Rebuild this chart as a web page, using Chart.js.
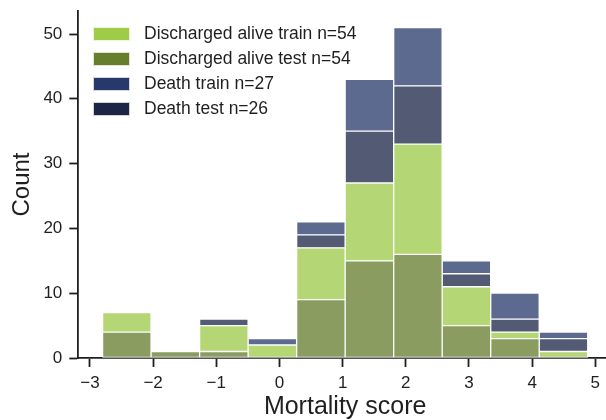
<!DOCTYPE html>
<html>
<head>
<meta charset="utf-8">
<script src="https://cdn.jsdelivr.net/npm/chart.js@4/dist/chart.umd.min.js"></script>
<style>
  html, body { margin: 0; padding: 0; overflow: hidden; background: #ffffff; }
  #wrap { width: 612px; height: 420px; }
</style>
</head>
<body>
<div id="wrap"><canvas id="c" width="612" height="420"></canvas></div>
<script>
// Histogram bins (equal width) and counts per group
const binEdges = [-2.800, -2.032, -1.264, -0.496, 0.272, 1.040, 1.808, 2.576, 3.344, 4.112, 4.880];
const xTicks = [-3, -2, -1, 0, 1, 2, 3, 4, 5];
const yTicks = [0, 10, 20, 30, 40, 50];

const aliveTrain = [3, 0, 4, 2, 8, 12, 17, 6, 1, 1];
const aliveTest  = [4, 1, 1, 0, 9, 15, 16, 5, 3, 0];
const deathTrain = [0, 0, 0, 1, 2, 8, 9, 2, 4, 1];
const deathTest  = [0, 0, 1, 0, 2, 8, 9, 2, 2, 2];

const labelAliveTrain = 'Discharged alive train n=54';
const labelAliveTest  = 'Discharged alive test n=54';
const labelDeathTrain = 'Death train n=27';
const labelDeathTest  = 'Death test n=26';

const FONT = "'Liberation Sans', Arial, Helvetica, sans-serif";
const INK = '#1f1f1f';

const binCenters = binEdges.slice(0, -1).map((e, i) => (e + binEdges[i + 1]) / 2);
const toPoints = counts => counts.map((c, i) => ({ x: binCenters[i], y: c }));

// Stack order, bottom to top
const groups = [
  { label: labelAliveTest,  data: aliveTest,  bar: '#8a9c5f', key: '#667e2d' },
  { label: labelAliveTrain, data: aliveTrain, bar: '#b5d674', key: '#a0cb49' },
  { label: labelDeathTest,  data: deathTest,  bar: '#525b73', key: '#1b2545' },
  { label: labelDeathTrain, data: deathTrain, bar: '#5b6a8e', key: '#26396a' }
];
const legendOrder = [labelAliveTrain, labelAliveTest, labelDeathTrain, labelDeathTest];

// Boxed legend in the upper left of the plot area
const insetLegend = {
  id: 'insetLegend',
  afterDraw(chart) {
    const ctx = chart.ctx;
    ctx.save();
    ctx.font = '17.5px ' + FONT;
    ctx.textBaseline = 'middle';
    ctx.textAlign = 'left';
    legendOrder.forEach((name, i) => {
      const g = groups.find(d => d.label === name);
      const top = 27 + i * 25;
      ctx.fillStyle = g.key;
      ctx.fillRect(93, top, 37, 14);
      ctx.strokeStyle = 'rgba(255,255,255,0.8)';
      ctx.lineWidth = 1;
      ctx.strokeRect(93.5, top + 0.5, 36, 13);
      ctx.fillStyle = INK;
      ctx.fillText(name, 144, top + 7.5);
    });
    ctx.restore();
  }
};

new Chart(document.getElementById('c'), {
  type: 'bar',
  data: {
    datasets: groups.map(g => ({
      label: g.label,
      data: toPoints(g.data),
      backgroundColor: g.bar,
      borderColor: '#ffffff',
      borderWidth: 1,
      borderSkipped: false,
      categoryPercentage: 1.0,
      barPercentage: 1.0
    }))
  },
  options: {
    responsive: false,
    animation: false,
    events: [],
    layout: { padding: { top: 11, left: 0, right: 0, bottom: 0 } },
    plugins: {
      legend: { display: false },
      tooltip: { enabled: false }
    },
    scales: {
      x: {
        type: 'linear',
        stacked: true,
        offset: false,
        min: -3.184,
        max: 5.264,
        afterBuildTicks: s => { s.ticks = xTicks.map(v => ({ value: v })); },
        afterFit: s => { s.height = 62; s.paddingLeft = 0; s.paddingRight = 0; },
        border: { display: true, color: INK, width: 1.8 },
        grid: { display: true, offset: false, drawOnChartArea: false, drawTicks: true,
                tickLength: 9, tickWidth: 1.8, tickColor: INK },
        ticks: {
          color: INK, font: { family: FONT, size: 17 }, padding: 6, maxRotation: 0,
          callback: v => (v < 0 ? '\u2212' + Math.abs(v) : String(v))
        },
        title: {
          display: true, text: 'Mortality score', color: INK,
          font: { family: FONT, size: 25, lineHeight: 1 }, padding: { top: 0, bottom: 0 }
        }
      },
      y: {
        stacked: true,
        min: 0,
        max: 53.55,
        afterBuildTicks: s => { s.ticks = yTicks.map(v => ({ value: v })); },
        afterFit: s => { s.width = 78.3; s.paddingTop = 0; s.paddingBottom = 0; },
        border: { display: true, color: INK, width: 1.8 },
        grid: { display: true, drawOnChartArea: false, drawTicks: true,
                tickLength: 9, tickWidth: 1.8, tickColor: INK },
        ticks: { color: INK, font: { family: FONT, size: 17 }, padding: 7 },
        title: {
          display: true, text: 'Count', color: INK,
          font: { family: FONT, size: 24, lineHeight: 1 }, padding: { top: 10, bottom: 0 }
        }
      }
    }
  },
  plugins: [insetLegend]
});
</script>
</body>
</html>
